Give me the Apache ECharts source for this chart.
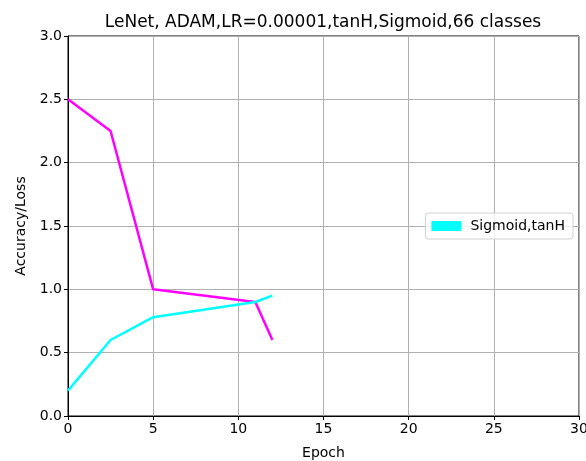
<!DOCTYPE html>
<html><head><meta charset="utf-8">
<script src="https://cdn.jsdelivr.net/npm/echarts@6/dist/echarts.min.js"></script>
<style>html,body{margin:0;padding:0;background:#fff}#c{width:586px;height:461px}</style>
</head><body><div id="c"></div>
<script>
const epochs = [0, 2.5, 5, 11, 12];
const lossValues = [2.5, 2.25, 1.0, 0.9, 0.6];
const accValues = [0.2, 0.6, 0.78, 0.9, 0.95];
const seriesName = 'Sigmoid,tanH';
const titleText = 'LeNet, ADAM,LR=0.00001,tanH,Sigmoid,66 classes';

const font = 'DejaVu Sans';
const chart = echarts.init(document.getElementById('c'), null, {renderer: 'canvas'});
chart.setOption({
  animation: false,
  backgroundColor: '#fff',
  title: {text: titleText, left: 318, top: 9, textAlign: 'center',
    textStyle: {fontFamily: font, fontSize: 17, fontWeight: 'normal', color: '#000'}},
  grid: {left: 68, right: 7, top: 36, bottom: 45, show: true, borderColor: '#000', borderWidth: 1,
    backgroundColor: '#fff', containLabel: false, outerBoundsMode: 'none'},
  legend: {data: [seriesName], right: 13, top: 213, orient: 'vertical',
    icon: 'rect', itemWidth: 30, itemHeight: 10, itemGap: 6,
    padding: [6, 8, 6, 6], borderColor: '#d0d0d0', borderWidth: 1, borderRadius: 3,
    backgroundColor: 'rgba(255,255,255,0.8)',
    textStyle: {fontFamily: font, fontSize: 14, color: '#000', padding: [0, 0, 0, 4]}},
  xAxis: {type: 'value', min: 0, max: 30, interval: 5,
    name: 'Epoch', nameLocation: 'middle', nameGap: 30,
    nameTextStyle: {fontFamily: font, fontSize: 14, color: '#000'},
    axisLine: {show: true, lineStyle: {color: '#000', width: 1}},
    axisTick: {show: true, length: 4, lineStyle: {color: '#000'}},
    axisLabel: {fontFamily: font, fontSize: 14, color: '#000', margin: 6},
    splitLine: {show: true, lineStyle: {color: '#b0b0b0', width: 1}}},
  yAxis: {type: 'value', min: 0, max: 3, interval: 0.5,
    name: 'Accuracy/Loss', nameLocation: 'middle', nameGap: 40,
    nameTextStyle: {fontFamily: font, fontSize: 14, color: '#000'},
    axisLine: {show: true, lineStyle: {color: '#000', width: 1}},
    axisTick: {show: true, length: 4, lineStyle: {color: '#000'}},
    axisLabel: {fontFamily: font, fontSize: 14, color: '#000', margin: 6,
      formatter: v => v.toFixed(1)},
    splitLine: {show: true, lineStyle: {color: '#b0b0b0', width: 1}}},
  series: [
    {name: 'loss', type: 'line', data: epochs.map((e, i) => [e, lossValues[i]]),
      showSymbol: false, lineStyle: {color: '#ff00ff', width: 2.5}, itemStyle: {color: '#ff00ff'}},
    {name: seriesName, type: 'line', data: epochs.map((e, i) => [e, accValues[i]]),
      showSymbol: false, lineStyle: {color: '#00ffff', width: 2.5}, itemStyle: {color: '#00ffff'}}
  ]
});
</script></body></html>
